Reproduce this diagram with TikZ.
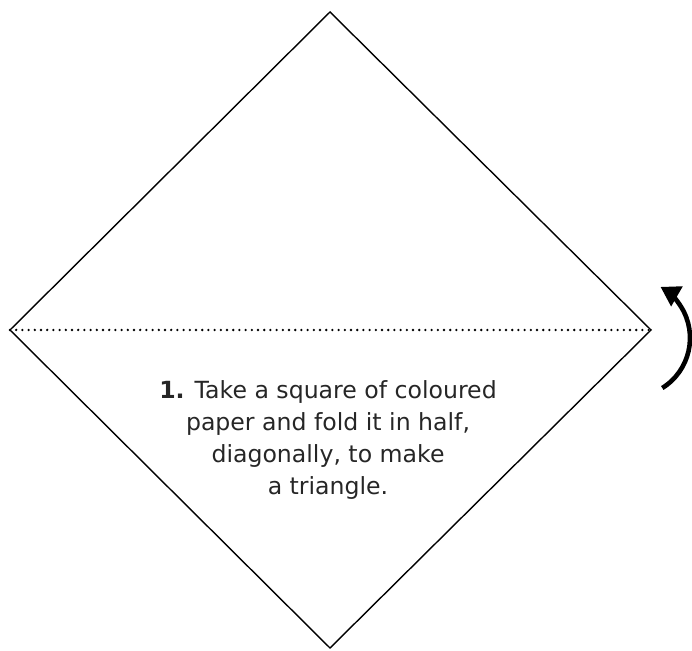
\documentclass[tikz,border=0pt]{standalone}
\usepackage{fontspec}
\setmainfont{DejaVu Sans}
\usetikzlibrary{arrows.meta, positioning}

\begin{document}
\begin{tikzpicture}[x=1pt, y=1pt,
    paper/.style={line width=1.4pt, line join=miter},
    crease/.style={line width=2.6pt, line cap=round, dash pattern=on 0pt off 6.2pt},
    turn/.style={line width=4.6pt, -{Triangle[length=19pt, width=22pt]}},
    step text/.style={align=center, font=\fontsize{23.6}{31.7}\selectfont, text=black!85}]
   \useasboundingbox (0,0) rectangle (692,650);

   % corners of the square
   \coordinate (top)    at (330,638);
   \coordinate (left)   at (10,320);
   \coordinate (right)  at (651,320);
   \coordinate (bottom) at (330,2);

   \draw[paper] (top) -- (right) -- (bottom) -- (left) -- cycle;
   \draw[crease] (left) -- (right);

   % fold direction
   \draw[turn] (631,312) ++(-58:59) arc[start angle=-58, end angle=60, radius=59];

   \node[step text] (caption) at (328,210)
      {\textbf{1.} Take a square of coloured\\
       paper and fold it in half,\\
       diagonally, to make\\
       a triangle.};
\end{tikzpicture}
\end{document}
